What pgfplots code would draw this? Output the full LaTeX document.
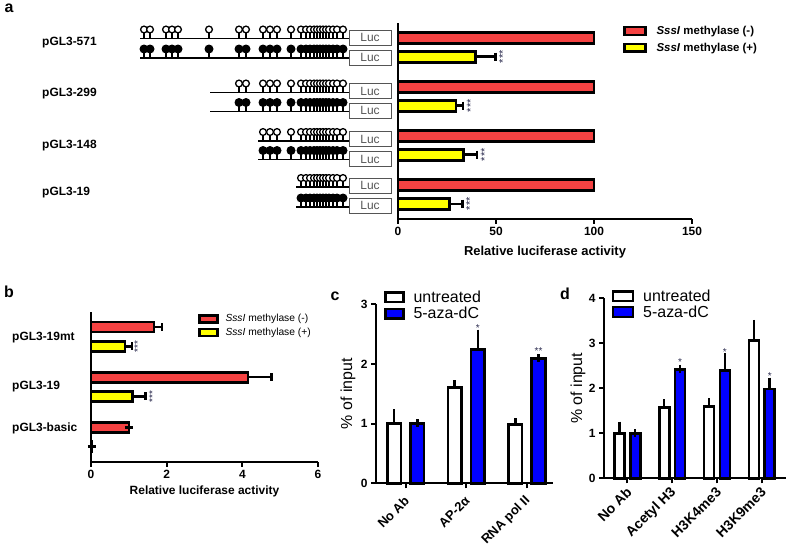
\documentclass[border=0pt]{standalone}
\usepackage{pgfplots}
\usepackage{pgfplotstable}
\pgfplotsset{compat=1.18}
\usepackage{fontspec}
\setmainfont{Liberation Sans}
\setsansfont{Liberation Sans}
\definecolor{myred}{RGB}{245,66,66}
\definecolor{myyellow}{RGB}{255,255,0}
\definecolor{myblue}{RGB}{0,0,255}
\definecolor{lucgray}{RGB}{85,85,85}
\definecolor{stargray}{RGB}{45,45,80}
\newcommand{\fs}[1]{\fontsize{#1}{#1}\selectfont}

\pgfplotstableread{
x d
144 0
150 0
166 0
172 0
178 0
209 0
239 0
246 0
263 0
270 0
277 0
291 0
301 0
306 0
310 0
314 0
317 0
320 0
323 0
326 0
329 0
333 0
337 0
343 0
}\lolA
\pgfplotstableread{
x d
239 0
246 0
263 0
270 0
277 0
291 0
301 0
306 0
310 0
314 0
317 0
320 0
323 0
326 0
329 0
333 0
337 0
343 0
}\lolB
\pgfplotstableread{
x d
263 0
270 0
277 0
291 0
301 0
306 0
310 0
314 0
317 0
320 0
323 0
326 0
329 0
333 0
337 0
343 0
}\lolC
\pgfplotstableread{
x d
301 0
306 0
310 0
314 0
317 0
320 0
323 0
326 0
329 0
333 0
337 0
343 0
}\lolD

\newcommand{\lolli}[4]{%
\addplot[quiver={u=0,v=9}, black, line width=1.4pt, -] table[x=x, y expr=#2-9] {#1};
\addplot[only marks, mark=*, mark size=#4, mark options={draw=black, fill=#3, line width=1.3pt}] table[x=x, y expr=#2-9] {#1};
}

\pgfplotsset{
 panel/.style={scale only axis, clip=false, axis x line*=bottom, axis y line*=left,
   axis line style={line width=2.2pt, -}, tick style={line width=2.2pt, black},
   major tick length=5bp, tick align=outside,
   /pgf/number format/assume math mode=true,
   tick label style={font=\bfseries\fs{12}},
   legend cell align=left},
 barst/.style={draw=black, line width=2.6pt},
 errx/.style={error bars/x dir=plus, error bars/x explicit, error bars/error bar style={line width=2.5pt, black}, error bars/error mark options={line width=2.5pt, mark size=4bp, black, rotate=90}},
 erry/.style={error bars/y dir=plus, error bars/y explicit, error bars/error bar style={line width=2.5pt, black}, error bars/error mark options={line width=2.5pt, mark size=4bp, black}},
 sqleg/.style n args={2}{legend image code/.code={\draw[##1, line width=2.4pt] (0bp,-#2) rectangle (#1,#2);}},
}

\begin{document}
\begin{tikzpicture}
\path[use as bounding box] (0,0) rectangle (787bp,550bp);

% ---------- overlay: schematic and labels ----------
\begin{axis}[hide axis, scale only axis, clip=false, width=787bp, height=550bp,
  at={(0bp,0bp)}, anchor=south west, xmin=0, xmax=787, ymin=0, ymax=550, y dir=reverse]
% lines
\addplot[black, line width=1.8pt] coordinates {(140,38.5) (349,38.5)};
\addplot[black, line width=1.8pt] coordinates {(140,58) (349,58)};
\addplot[black, line width=1.8pt] coordinates {(210,92.5) (349,92.5)};
\addplot[black, line width=1.8pt] coordinates {(210,111.5) (349,111.5)};
\addplot[black, line width=1.8pt] coordinates {(258,141) (349,141)};
\addplot[black, line width=1.8pt] coordinates {(258,159.5) (349,159.5)};
\addplot[black, line width=1.8pt] coordinates {(296,187) (349,187)};
\addplot[black, line width=1.8pt] coordinates {(296,207) (349,207)};
% lollipops
\lolli{\lolA}{38.5}{white}{3.4bp}
\lolli{\lolA}{58}{black}{3.8bp}
\lolli{\lolB}{92.5}{white}{3.4bp}
\lolli{\lolB}{111.5}{black}{3.8bp}
\lolli{\lolC}{141}{white}{3.4bp}
\lolli{\lolC}{159.5}{black}{3.8bp}
\lolli{\lolD}{187}{white}{3.4bp}
\lolli{\lolD}{207}{black}{3.8bp}
% Luc boxes
\addplot[draw=lucgray, line width=1pt, fill=white] coordinates {(349,30) (391,30) (391,45) (349,45)} --cycle;
\addplot[draw=lucgray, line width=1pt, fill=white] coordinates {(349,50) (391,50) (391,65) (349,65)} --cycle;
\addplot[draw=lucgray, line width=1pt, fill=white] coordinates {(349,83.5) (391,83.5) (391,98.5) (349,98.5)} --cycle;
\addplot[draw=lucgray, line width=1pt, fill=white] coordinates {(349,103) (391,103) (391,118) (349,118)} --cycle;
\addplot[draw=lucgray, line width=1pt, fill=white] coordinates {(349,131.7) (391,131.7) (391,146.7) (349,146.7)} --cycle;
\addplot[draw=lucgray, line width=1pt, fill=white] coordinates {(349,151.7) (391,151.7) (391,166.7) (349,166.7)} --cycle;
\addplot[draw=lucgray, line width=1pt, fill=white] coordinates {(349,178.3) (391,178.3) (391,193.3) (349,193.3)} --cycle;
\addplot[draw=lucgray, line width=1pt, fill=white] coordinates {(349,198.3) (391,198.3) (391,213.3) (349,213.3)} --cycle;
\begin{scope}[every node/.style={font=\fs{12}, text=lucgray, inner sep=0pt}]
\node at (axis cs:370,37.5) {Luc};
\node at (axis cs:370,57.5) {Luc};
\node at (axis cs:370,91) {Luc};
\node at (axis cs:370,110.5) {Luc};
\node at (axis cs:370,139.2) {Luc};
\node at (axis cs:370,159.2) {Luc};
\node at (axis cs:370,185.8) {Luc};
\node at (axis cs:370,205.8) {Luc};
\end{scope}
% row labels
\begin{scope}[every node/.style={font=\bfseries\fs{12}, anchor=west, inner sep=0pt}]
\node at (axis cs:42,43) {pGL3-571};
\node at (axis cs:42,94) {pGL3-299};
\node at (axis cs:42,146) {pGL3-148};
\node at (axis cs:42,193) {pGL3-19};
\node at (axis cs:12,338) {pGL3-19mt};
\node at (axis cs:12,387) {pGL3-19};
\node at (axis cs:12,428) {pGL3-basic};
\end{scope}
% panel letters
\begin{scope}[every node/.style={font=\bfseries\fs{16}, inner sep=0pt}]
\node at (axis cs:9,8) {a};
\node at (axis cs:9,292) {b};
\node at (axis cs:335,296) {c};
\node at (axis cs:565,294) {d};
\end{scope}
\end{axis}

% ---------- panel a ----------
\begin{axis}[panel, width=294bp, height=196bp, at={(398bp,331bp)}, anchor=south west,
  xbar, bar width=11bp, xmin=0, xmax=150, ymin=0, ymax=4,
  xtick={0,50,100,150}, ytick=\empty,
  xlabel={Relative luciferase activity},
  xlabel style={font=\bfseries\fs{13}, at={(axis description cs:0.5,-0.168)}, anchor=center},
  legend style={at={(axis description cs:0.765,0.99)}, anchor=north west, draw=none, fill=none,
    inner sep=0pt, font=\bfseries\fs{11.5}, row sep=5bp, nodes={inner sep=1bp},
    /tikz/every odd column/.append style={column sep=9bp}}]
\addplot[barst, fill=myred, bar shift=9.25bp, sqleg={21bp}{3.8bp}]
  coordinates {(100,3.5) (100,2.5) (100,1.5) (100,0.5)};
\addlegendentry{\textit{SssI} methylase (-)}
\addplot[barst, fill=myyellow, bar shift=-9.25bp, sqleg={21bp}{3.8bp}, errx]
  coordinates {(39.5,3.5) +- (10.2,0) (29.6,2.5) +- (3.6,0) (33.5,1.5) +- (6.9,0) (26.3,0.5) +- (6.5,0)};
\addlegendentry{\textit{SssI} methylase (+)}
\begin{scope}[every node/.style={font=\fs{11}, text=stargray, inner sep=0pt}]
\node[xshift=7.5bp, yshift=-9.25bp, rotate=90] at (axis cs:49.7,3.5) {***};
\node[xshift=7.5bp, yshift=-9.25bp, rotate=90] at (axis cs:33.2,2.5) {***};
\node[xshift=7.5bp, yshift=-9.25bp, rotate=90] at (axis cs:40.4,1.5) {***};
\node[xshift=7.5bp, yshift=-9.25bp, rotate=90] at (axis cs:32.8,0.5) {***};
\end{scope}
\end{axis}

% ---------- panel b ----------
\begin{axis}[panel, width=227bp, height=150.3bp, at={(91bp,88bp)}, anchor=south west,
  xbar, bar width=10bp, xmin=0, xmax=6, ymin=0, ymax=3,
  xtick={0,2,4,6}, ytick=\empty,
  xlabel={Relative luciferase activity},
  xlabel style={font=\bfseries\fs{12}, at={(axis description cs:0.5,-0.193)}, anchor=center},
  legend style={at={(axis description cs:0.471,0.99)}, anchor=north west, draw=none, fill=none,
    inner sep=0pt, font=\fs{10.3}, row sep=2.5bp, nodes={inner sep=1bp},
    /tikz/every odd column/.append style={column sep=6bp}}]
\addplot[barst, fill=myred, bar shift=9.6bp, sqleg={18bp}{3.5bp}, errx]
  coordinates {(1.67,2.5) +- (0.21,0) (4.15,1.5) +- (0.62,0) (1.0,0.5) +- (0,0)};
\addlegendentry{\textit{SssI} methylase (-)}
\addplot[barst, fill=myyellow, bar shift=-9.6bp, sqleg={18bp}{3.5bp}, errx]
  coordinates {(0.90,2.5) +- (0.19,0) (1.09,1.5) +- (0.35,0) (0.02,0.5) +- (0,0)};
\addlegendentry{\textit{SssI} methylase (+)}
\begin{scope}[every node/.style={font=\fs{10}, text=stargray, inner sep=0pt}]
\node[xshift=5.5bp, yshift=-9.6bp, rotate=90] at (axis cs:1.09,2.5) {***};
\node[xshift=7bp, yshift=-9.6bp, rotate=90] at (axis cs:1.44,1.5) {***};
\end{scope}
\end{axis}

% ---------- panel c ----------
\begin{axis}[panel, width=177bp, height=179bp, at={(376bp,66.7bp)}, anchor=south west,
  ybar, bar width=13.5bp, xmin=-0.49, xmax=2.43, ymin=0, ymax=3,
  ytick={0,1,2,3}, xtick={0,1,2}, xticklabels={No Ab, AP-2α, RNA pol II},
  xticklabel style={font=\bfseries\fs{13}, rotate=45, anchor=east, yshift=-8bp, xshift=-3bp},
  ylabel={\% of input},
  ylabel style={font=\fs{16}, at={(axis description cs:-0.158,0.5)}, anchor=center},
  legend style={at={(axis description cs:0.045,1.083)}, anchor=north west, draw=none, fill=none,
    inner sep=0pt, font=\fs{16}, row sep=1.5bp, nodes={inner sep=1bp},
    /tikz/every odd column/.append style={column sep=8bp}}]
\addplot[barst, fill=white, bar shift=-11.6bp, sqleg={18bp}{4.6bp}, erry]
  coordinates {(0,1.0) +- (0,0.17) (1,1.61) +- (0,0.05) (2,0.99) +- (0,0.03)};
\addlegendentry{untreated}
\addplot[barst, fill=myblue, bar shift=11.6bp, sqleg={18bp}{4.6bp}, erry]
  coordinates {(0,1.0) +- (0,0.01) (1,2.24) +- (0,0.27) (2,2.09) +- (0,0.01)};
\addlegendentry{5-aza-dC}
\begin{scope}[every node/.style={font=\fs{10}, text=stargray, inner sep=0pt, anchor=south}]
\node[xshift=11.6bp, yshift=1.5bp] at (axis cs:1,2.51) {*};
\node[xshift=11.6bp, yshift=3bp] at (axis cs:2,2.10) {**};
\end{scope}
\end{axis}

% ---------- panel d ----------
\begin{axis}[panel, width=182bp, height=180bp, at={(604bp,71.7bp)}, anchor=south west,
  ybar, bar width=10bp, xmin=-0.52, xmax=3.54, ymin=0, ymax=4,
  ytick={0,1,2,3,4}, xtick={0,1,2,3}, xticklabels={No Ab, Acetyl H3, H3K4me3, H3K9me3},
  xticklabel style={font=\bfseries\fs{14}, rotate=45, anchor=east, yshift=-6bp, xshift=0bp},
  ylabel={\% of input},
  ylabel style={font=\fs{16}, at={(axis description cs:-0.143,0.5)}, anchor=center},
  legend style={at={(axis description cs:0.042,1.053)}, anchor=north west, draw=none, fill=none,
    inner sep=0pt, font=\fs{16}, row sep=0.5bp, nodes={inner sep=1bp},
    /tikz/every odd column/.append style={column sep=8bp}}]
\addplot[barst, fill=white, bar shift=-7.9bp, sqleg={20bp}{4.8bp}, erry]
  coordinates {(0,1.0) +- (0,0.17) (1,1.57) +- (0,0.10) (2,1.59) +- (0,0.10) (3,3.06) +- (0,0.37)};
\addlegendentry{untreated}
\addplot[barst, fill=myblue, bar shift=7.9bp, sqleg={20bp}{4.8bp}, erry]
  coordinates {(0,1.0) +- (0,0.0) (1,2.42) +- (0,0.01) (2,2.39) +- (0,0.31) (3,1.98) +- (0,0.17)};
\addlegendentry{5-aza-dC}
\begin{scope}[every node/.style={font=\fs{10}, text=stargray, inner sep=0pt, anchor=south}]
\node[xshift=7.9bp, yshift=3.5bp] at (axis cs:1,2.43) {*};
\node[xshift=7.9bp, yshift=1.5bp] at (axis cs:2,2.70) {*};
\node[xshift=7.9bp, yshift=1.5bp] at (axis cs:3,2.15) {*};
\end{scope}
\end{axis}
\end{tikzpicture}
\end{document}
